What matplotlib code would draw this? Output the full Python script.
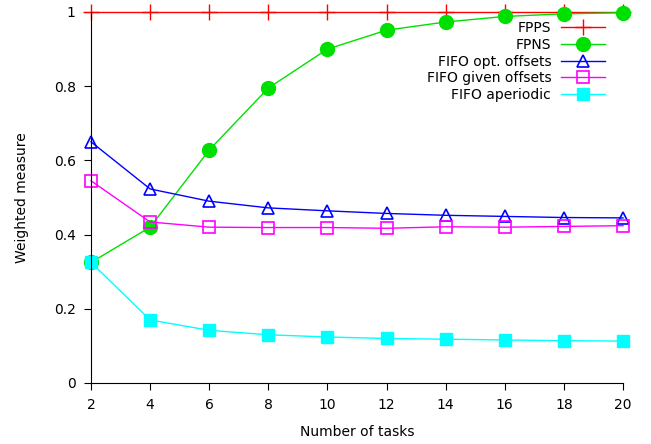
import matplotlib
matplotlib.use("Agg")
import matplotlib.pyplot as plt

tasks = [2, 4, 6, 8, 10, 12, 14, 16, 18, 20]
fpps = [1, 1, 1, 1, 1, 1, 1, 1, 1, 1]
fpns = [0.325, 0.42, 0.628, 0.795, 0.90, 0.951, 0.973, 0.988, 0.995, 0.998]
fifo_opt = [0.65, 0.523, 0.49, 0.472, 0.464, 0.457, 0.452, 0.449, 0.446, 0.445]
fifo_given = [0.545, 0.434, 0.42, 0.419, 0.419, 0.417, 0.421, 0.42, 0.422, 0.424]
fifo_aper = [0.325, 0.17, 0.142, 0.13, 0.124, 0.12, 0.118, 0.116, 0.114, 0.113]

fig = plt.figure(figsize=(6.51, 4.44), dpi=100)
ax = fig.add_axes([0.1398, 0.1374, 0.8172, 0.8356])

lw = 1.0
ax.plot(tasks, fpps, color='#ff0000', lw=lw, marker='+', ms=11, mew=1.0, label='FPPS', clip_on=False)
ax.plot(tasks, fpns, color='#00e000', lw=lw, marker='o', ms=10, mfc='#00e000', mec='#00e000', label='FPNS', clip_on=False)
ax.plot(tasks, fifo_opt, color='#0000ff', lw=lw, marker='^', ms=8, mfc='none', mew=1.2, label='FIFO opt. offsets', clip_on=False)
ax.plot(tasks, fifo_given, color='#ff00ff', lw=lw, marker='s', ms=8, mfc='none', mew=1.2, label='FIFO given offsets', clip_on=False)
ax.plot(tasks, fifo_aper, color='#00ffff', lw=lw, marker='s', ms=8, mfc='#00ffff', mec='#00ffff', label='FIFO aperiodic', clip_on=False)

ax.set_xlim(2, 20)
ax.set_ylim(0, 1)
ax.set_xticks(tasks)
ax.set_yticks([0, 0.2, 0.4, 0.6, 0.8, 1])
ax.set_yticklabels(['0', '0.2', '0.4', '0.6', '0.8', '1'])
ax.spines['top'].set_visible(False)
ax.spines['right'].set_visible(False)
ax.tick_params(direction='out', length=5, labelsize=10, pad=6)
ax.set_xlabel('Number of tasks', fontsize=10, labelpad=9)
ax.set_ylabel('Weighted measure', fontsize=10, labelpad=18)

leg = ax.legend(loc='upper right', bbox_to_anchor=(0.985, 1.002), frameon=False, markerfirst=False,
                fontsize=10, handlelength=3.2, labelspacing=0.2, handletextpad=0.7, borderaxespad=0.3)

fig.savefig('out.png', dpi=100)
